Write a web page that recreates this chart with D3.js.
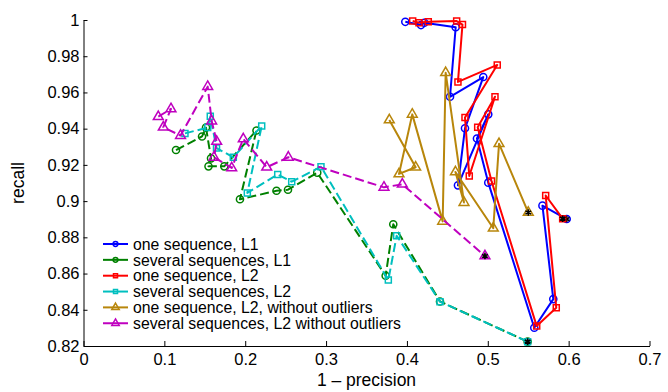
<!DOCTYPE html>
<html>
<head>
<meta charset="utf-8">
<script src="https://cdn.jsdelivr.net/npm/d3@7"></script>
<style>
  html, body { margin: 0; padding: 0; background: #fff; }
  svg { display: block; }
  text { font-family: "Liberation Sans", Arial, Helvetica, sans-serif; fill: #000; }
</style>
</head>
<body>
<svg id="chart" width="668" height="392"></svg>
<script>
// ---------- data (x = 1 - precision, y = recall) ----------
const seriesNames = [
  "one sequence, L1",
  "several sequences, L1",
  "one sequence, L2",
  "several sequences, L2",
  "one sequence, L2, without outliers",
  "several sequences, L2 without outliers"
];

const oneSeqL1 = [
  [0.398, 0.999], [0.4174, 0.9972], [0.4215, 0.9985], [0.4603, 0.996],
  [0.4533, 0.9576], [0.4944, 0.9685], [0.4718, 0.9402], [0.4631, 0.9087],
  [0.5006, 0.9479], [0.4866, 0.9346], [0.5006, 0.9102], [0.5575, 0.8301],
  [0.581, 0.8459], [0.5676, 0.8975], [0.5976, 0.8901]
];
const severalSeqL1 = [
  [0.1144, 0.9282], [0.1466, 0.9357], [0.1515, 0.9406], [0.1577, 0.9236],
  [0.1546, 0.9192], [0.1741, 0.9192], [0.2139, 0.939], [0.1935, 0.901],
  [0.2387, 0.9057], [0.2529, 0.9063], [0.2891, 0.9157], [0.3737, 0.8588],
  [0.3831, 0.8872], [0.4409, 0.8446], [0.5493, 0.8224]
];
const oneSeqL2 = [
  [0.4071, 0.9994], [0.4149, 0.9985], [0.4264, 0.9991], [0.4615, 0.9994],
  [0.4687, 0.9975], [0.4631, 0.9658], [0.5117, 0.9752], [0.4718, 0.9462],
  [0.4771, 0.9139], [0.5089, 0.9576], [0.4875, 0.9408], [0.5046, 0.9111],
  [0.5605, 0.831], [0.5847, 0.8411], [0.5716, 0.9031], [0.5926, 0.8903]
];
const severalSeqL2 = [
  [0.1255, 0.9374], [0.1536, 0.9406], [0.1568, 0.9468], [0.1645, 0.9293],
  [0.1853, 0.9242], [0.2204, 0.9415], [0.2026, 0.9045], [0.2402, 0.9147],
  [0.2575, 0.9107], [0.2937, 0.919], [0.377, 0.8564], [0.3873, 0.8809],
  [0.4409, 0.8445], [0.5493, 0.8224]
];
const oneSeqL2NoOut = [
  [0.3782, 0.9448], [0.4108, 0.9187], [0.3902, 0.915], [0.4066, 0.9479],
  [0.4442, 0.8888], [0.4479, 0.9709], [0.4706, 0.8992], [0.46, 0.9161],
  [0.5068, 0.885], [0.5139, 0.9317], [0.5501, 0.8937]
];
const severalSeqL2NoOut = [
  [0.0925, 0.9466], [0.1082, 0.9509], [0.0987, 0.9408], [0.12, 0.9362],
  [0.1536, 0.9632], [0.1585, 0.9442], [0.1647, 0.9329], [0.1614, 0.9242],
  [0.1833, 0.9183], [0.1976, 0.9343], [0.2266, 0.9187], [0.2533, 0.9242],
  [0.3716, 0.9076], [0.3943, 0.9093], [0.4965, 0.8697]
];

const xTicks = [0, 0.1, 0.2, 0.3, 0.4, 0.5, 0.6, 0.7];
const xTickLabels = ["0", "0.1", "0.2", "0.3", "0.4", "0.5", "0.6", "0.7"];
const yTicks = [0.82, 0.84, 0.86, 0.88, 0.9, 0.92, 0.94, 0.96, 0.98, 1];
const yTickLabels = ["0.82", "0.84", "0.86", "0.88", "0.9", "0.92", "0.94", "0.96", "0.98", "1"];

// ---------- styles ----------
const seriesData = [oneSeqL1, severalSeqL1, oneSeqL2, severalSeqL2, oneSeqL2NoOut, severalSeqL2NoOut];
const colors = ["#0000ff", "#008000", "#ff0000", "#00bfbf", "#b8860b", "#bf00bf"];
const dashed = [false, true, false, true, false, true];
const markerTypes = [d3.symbolCircle, d3.symbolCircle, d3.symbolSquare, d3.symbolSquare, d3.symbolTriangle, d3.symbolTriangle];
const markerSizes = [40, 40, 36, 36, 42, 42];
const legendMarkerSizes = [18, 18, 16, 16, 24, 24];

const svg = d3.select("#chart");
const x = d3.scaleLinear().domain([0, 0.7]).range([83.5, 649.5]);
const y = d3.scaleLinear().domain([0.82, 1]).range([346, 20]);

// axes
const xAxis = d3.axisBottom(x)
  .tickValues(xTicks)
  .tickFormat((d, i) => xTickLabels[i])
  .tickSizeInner(-5).tickSizeOuter(0).tickPadding(7);
const yAxis = d3.axisLeft(y)
  .tickValues(yTicks)
  .tickFormat((d, i) => yTickLabels[i])
  .tickSizeInner(-4).tickSizeOuter(0).tickPadding(4);

const gx = svg.append("g").attr("transform", "translate(0,346)").call(xAxis);
const gy = svg.append("g").attr("transform", "translate(83.5,0)").call(yAxis);
[gx, gy].forEach(g => {
  g.selectAll("path.domain").attr("stroke", "#000").attr("stroke-width", 1);
  g.selectAll(".tick line").attr("stroke", "#000").attr("stroke-width", 1);
  g.selectAll(".tick text").style("font-size", "16.5px")
    .style("font-family", '"Liberation Sans", Arial, sans-serif').attr("fill", "#000");
});

// labels
svg.append("text")
  .attr("x", 366.5).attr("y", 386)
  .attr("text-anchor", "middle")
  .style("font-size", "17.5px")
  .text("1 – precision");
svg.append("text")
  .attr("transform", "translate(24,183) rotate(-90)")
  .attr("text-anchor", "middle")
  .style("font-size", "17.5px")
  .text("recall");

// series
const line = d3.line().x(d => x(d[0])).y(d => y(d[1]));
seriesData.forEach((data, i) => {
  const g = svg.append("g");
  g.append("path")
    .datum(data)
    .attr("d", line)
    .attr("fill", "none")
    .attr("stroke", colors[i])
    .attr("stroke-width", 2)
    .attr("stroke-linejoin", "round")
    .attr("stroke-dasharray", dashed[i] ? "9,4" : null);
  const sym = d3.symbol().type(markerTypes[i]).size(markerSizes[i]);
  g.selectAll("path.mk")
    .data(data)
    .join("path")
    .attr("class", "mk")
    .attr("transform", d => `translate(${x(d[0])},${y(d[1])})`)
    .attr("d", sym)
    .attr("fill", "none")
    .attr("stroke", colors[i])
    .attr("stroke-width", 1.5);
  // end marker
  const last = data[data.length - 1];
  g.append("path")
    .attr("transform", `translate(${x(last[0])},${y(last[1])})`)
    .attr("d", d3.symbol().type(d3.symbolAsterisk).size(30)())
    .attr("fill", "none")
    .attr("stroke", "#000")
    .attr("stroke-width", 1.6);
});

// legend
const lg = svg.append("g");
seriesNames.forEach((name, i) => {
  const yy = 244 + i * 15.85;
  lg.append("line")
    .attr("x1", 103).attr("x2", 128).attr("y1", yy).attr("y2", yy)
    .attr("stroke", colors[i]).attr("stroke-width", 2);
  lg.append("path")
    .attr("transform", `translate(115.5,${yy})`)
    .attr("d", d3.symbol().type(markerTypes[i]).size(legendMarkerSizes[i])())
    .attr("fill", "none").attr("stroke", colors[i]).attr("stroke-width", 1.5);
  lg.append("text")
    .attr("x", 133).attr("y", yy).attr("dy", "0.36em")
    .style("font-size", "15.8px")
    .text(name);
});
</script>
</body>
</html>
